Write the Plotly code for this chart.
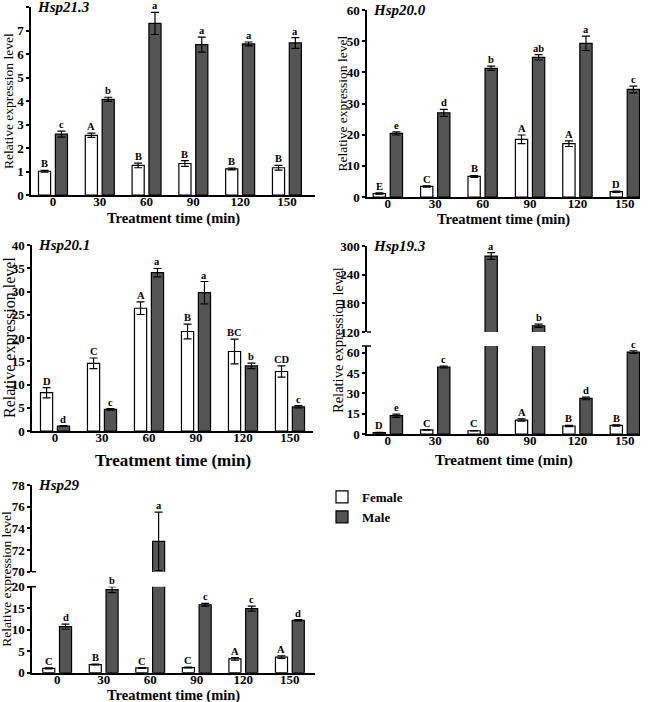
import plotly.graph_objects as go

times = ["0", "30", "60", "90", "120", "150"]

# Hsp21.3
h213_female = [1.01, 2.54, 1.26, 1.34, 1.11, 1.16]
h213_female_err = [0.04, 0.09, 0.10, 0.12, 0.04, 0.10]
h213_male = [2.59, 4.07, 7.30, 6.40, 6.43, 6.47]
h213_male_err = [0.13, 0.09, 0.47, 0.32, 0.08, 0.23]
h213_female_let = ["B", "A", "B", "B", "B", "B"]
h213_male_let = ["c", "b", "a", "a", "a", "a"]

# Hsp20.0
h200_female = [1.1, 3.4, 6.6, 18.5, 17.1, 1.7]
h200_female_err = [0.2, 0.2, 0.3, 1.4, 0.9, 0.2]
h200_male = [20.4, 27.0, 41.3, 44.8, 49.3, 34.5]
h200_male_err = [0.5, 1.1, 0.7, 0.85, 2.3, 1.1]
h200_female_let = ["E", "C", "B", "A", "A", "D"]
h200_male_let = ["e", "d", "b", "ab", "a", "c"]

# Hsp20.1
h201_female = [8.24, 14.55, 26.4, 21.4, 17.1, 12.8]
h201_female_err = [1.1, 1.15, 1.35, 1.6, 2.65, 1.2]
h201_male = [1.08, 4.66, 34.05, 29.75, 14.0, 5.2]
h201_male_err = [0.1, 0.15, 0.9, 2.4, 0.6, 0.25]
h201_female_let = ["D", "C", "A", "B", "BC", "CD"]
h201_male_let = ["d", "c", "a", "a", "b", "c"]

# Hsp19.3
h193_female = [1.0, 3.0, 2.4, 10.3, 5.9, 6.3]
h193_female_err = [0.2, 0.2, 0.2, 0.8, 0.5, 0.5]
h193_male = [13.5, 49.5, 279.0, 133.0, 26.3, 60.5]
h193_male_err = [1.2, 0.6, 7.0, 3.5, 1.0, 1.0]
h193_female_let = ["D", "C", "C", "A", "B", "B"]
h193_male_let = ["e", "c", "a", "b", "d", "c"]

# Hsp29
h29_female = [1.0, 1.9, 1.1, 1.2, 3.2, 3.6]
h29_female_err = [0.1, 0.1, 0.1, 0.1, 0.3, 0.3]
h29_male = [10.7, 19.3, 72.8, 15.8, 14.9, 12.2]
h29_male_err = [0.6, 0.7, 2.7, 0.3, 0.6, 0.15]
h29_female_let = ["C", "B", "C", "C", "A", "A"]
h29_male_let = ["d", "b", "a", "c", "c", "d"]

W, H = 649, 702
FONT = "Liberation Serif, Times New Roman, serif"
MALE_COLOR = "#545454"
BARGAP = 0.28
BARGROUPGAP = 0.28
OFF = (1 - BARGAP) / 4


def px_x(p):
    return p / W


def px_y(p):
    return 1 - p / H


fig = go.Figure()
annotations = []
shapes = []


def add_bars(xa, ya, f, fe, m, me, legend):
    err = dict(type="data", visible=True, color="black", thickness=1.2, width=4)
    fig.add_trace(go.Bar(
        x=times, y=f, name="Female", xaxis=xa, yaxis=ya,
        error_y=dict(array=fe, **err),
        marker=dict(color="white", line=dict(color="black", width=1.2)),
        showlegend=legend, legendgroup="F"))
    fig.add_trace(go.Bar(
        x=times, y=m, name="Male", xaxis=xa, yaxis=ya,
        error_y=dict(array=me, **err),
        marker=dict(color=MALE_COLOR, line=dict(color="black", width=1.2)),
        showlegend=legend, legendgroup="M"))


def add_letters(xa, ya_low, ya_up, low_max, vals, errs, lets, sign):
    for i, (v, e, t) in enumerate(zip(vals, errs, lets)):
        top = v + e
        ya = ya_low
        if ya_up is not None and top > low_max:
            ya = ya_up
        annotations.append(dict(
            x=i + sign * OFF, y=top, xref=xa, yref=ya, text=t, showarrow=False,
            yanchor="bottom", yshift=-1,
            font=dict(family=FONT, size=10.5, color="black", weight="bold")))


panels = [
    dict(xa="x", ya="y", up=None, title="Hsp21.3",
         xd=(31, 315), yd=(195, 7), up_d=None, xr=(-0.47, 5.6),
         yr=(0, 8), ticks=list(range(0, 9)), up_r=None, up_ticks=None,
         data=(h213_female, h213_female_err, h213_male, h213_male_err, h213_female_let, h213_male_let),
         xt_y=218, yt_x=8, ytsize=13.5, xtsize=14.5),
    dict(xa="x2", ya="y2", up=None, title="Hsp20.0",
         xd=(367, 640), yd=(197, 10), up_d=None, xr=(-0.44, 5.32),
         yr=(0, 60), ticks=list(range(0, 61, 10)), up_r=None, up_ticks=None,
         data=(h200_female, h200_female_err, h200_male, h200_male_err, h200_female_let, h200_male_let),
         xt_y=220, yt_x=342, ytsize=13.5, xtsize=14.5),
    dict(xa="x3", ya="y3", up=None, title="Hsp20.1",
         xd=(32, 313), yd=(431, 245), up_d=None, xr=(-0.49, 5.49),
         yr=(0, 40), ticks=list(range(0, 41, 5)), up_r=None, up_ticks=None,
         data=(h201_female, h201_female_err, h201_male, h201_male_err, h201_female_let, h201_male_let),
         xt_y=460, yt_x=10, ytsize=16, xtsize=17),
    dict(xa="x4", ya="y4", up="y6", title="Hsp19.3",
         xd=(367, 640), yd=(434, 346), up_d=(332, 246), xr=(-0.44, 5.32),
         yr=(0, 65), ticks=[0, 15, 30, 45, 60], up_r=(120, 300), up_ticks=[120, 180, 240, 300],
         data=(h193_female, h193_female_err, h193_male, h193_male_err, h193_female_let, h193_male_let),
         xt_y=460, yt_x=338, ytsize=14.5, xtsize=15),
    dict(xa="x5", ya="y5", up="y7", title="Hsp29",
         xd=(32, 315), yd=(672.7, 586.7), up_d=(571.7, 485), xr=(-0.54, 5.54),
         yr=(0, 20), ticks=list(range(0, 21, 5)), up_r=(70, 78), up_ticks=list(range(70, 79, 2)),
         data=(h29_female, h29_female_err, h29_male, h29_male_err, h29_female_let, h29_male_let),
         xt_y=695, yt_x=7, ytsize=13.5, xtsize=14.5),
]

layout_axes = {}
tickfont = dict(family=FONT, size=13, color="black", weight="bold")
for k, p in enumerate(panels):
    f, fe, m, me, fl, ml = p["data"]
    add_bars(p["xa"], p["ya"], f, fe, m, me, k == 0)
    if p["up"]:
        add_bars(p["xa"], p["up"], f, fe, m, me, False)
    add_letters(p["xa"], p["ya"], p["up"], p["yr"][1], f, fe, fl, -1)
    add_letters(p["xa"], p["ya"], p["up"], p["yr"][1], m, me, ml, 1)

    xname = "xaxis" + p["xa"][1:]
    yname = "yaxis" + p["ya"][1:]
    layout_axes[xname] = dict(
        domain=[px_x(p["xd"][0]), px_x(p["xd"][1])], anchor=p["ya"],
        type="category", range=list(p["xr"]), showline=True, linecolor="black",
        linewidth=1.5, ticks="", ticklen=0, showgrid=False, zeroline=False,
        tickfont=tickfont, ticklabelstandoff=-6)
    layout_axes[yname] = dict(
        domain=[px_y(p["yd"][0]), px_y(p["yd"][1])], anchor=p["xa"],
        range=list(p["yr"]), tickvals=p["ticks"], showline=True, linecolor="black",
        linewidth=1.5, ticks="outside", ticklen=3, tickwidth=1.5, tickcolor="black",
        showgrid=False, zeroline=False, tickfont=tickfont)
    top_px = p["yd"][1]
    if p["up"]:
        uname = "yaxis" + p["up"][1:]
        layout_axes[uname] = dict(
            domain=[px_y(p["up_d"][0]), px_y(p["up_d"][1])], anchor=p["xa"],
            range=list(p["up_r"]), tickvals=p["up_ticks"], showline=True, linecolor="black",
            linewidth=1.5, ticks="outside", ticklen=3, tickwidth=1.5, tickcolor="black",
            showgrid=False, zeroline=False, tickfont=tickfont)
        top_px = p["up_d"][1]
        # break marks
        ax_x = px_x(p["xd"][0])
        shapes.append(dict(type="line", xref="paper", yref="paper",
                           x0=ax_x - 5 / W, x1=ax_x + 4 / W,
                           y0=px_y(p["yd"][1]), y1=px_y(p["yd"][1]),
                           line=dict(color="black", width=1.5)))
        shapes.append(dict(type="line", xref="paper", yref="paper",
                           x0=ax_x, x1=ax_x + 4 / W,
                           y0=px_y(p["up_d"][0]), y1=px_y(p["up_d"][0]),
                           line=dict(color="black", width=1.5)))
    # gene title
    annotations.append(dict(
        x=px_x(p["xd"][0]) + 4 / W, y=px_y(top_px), xref="paper", yref="paper",
        text="<b><i>" + p["title"] + "</i></b>", showarrow=False,
        xanchor="left", yanchor="middle",
        font=dict(family=FONT, size=15, color="black")))
    # y title
    ymid = (p["yd"][0] + top_px) / 2
    annotations.append(dict(
        x=px_x(p["yt_x"]), y=px_y(ymid), xref="paper", yref="paper",
        text="Relative expression level", textangle=-90, showarrow=False,
        xanchor="center", yanchor="middle",
        font=dict(family=FONT, size=p["ytsize"], color="black")))
    # x title
    annotations.append(dict(
        x=px_x((p["xd"][0] + p["xd"][1]) / 2), y=px_y(p["xt_y"]), xref="paper", yref="paper",
        text="<b>Treatment time (min)</b>", showarrow=False,
        xanchor="center", yanchor="middle",
        font=dict(family=FONT, size=p["xtsize"], color="black")))

fig.update_layout(
    width=W, height=H, margin=dict(l=0, r=0, t=0, b=0),
    paper_bgcolor="white", plot_bgcolor="white", template="none",
    barmode="group", bargap=BARGAP, bargroupgap=BARGROUPGAP,
    font=dict(family=FONT, color="black"),
    annotations=annotations, shapes=shapes,
    legend=dict(x=px_x(322), y=px_y(482), xanchor="left", yanchor="top",
                bgcolor="rgba(0,0,0,0)", tracegroupgap=0,
                font=dict(family=FONT, size=13, color="black", weight="bold")),
    **layout_axes,
)

fig.write_html("out.html", config={"displayModeBar": False},
               post_script="document.body.style.margin='0';document.body.style.overflow='hidden';")
